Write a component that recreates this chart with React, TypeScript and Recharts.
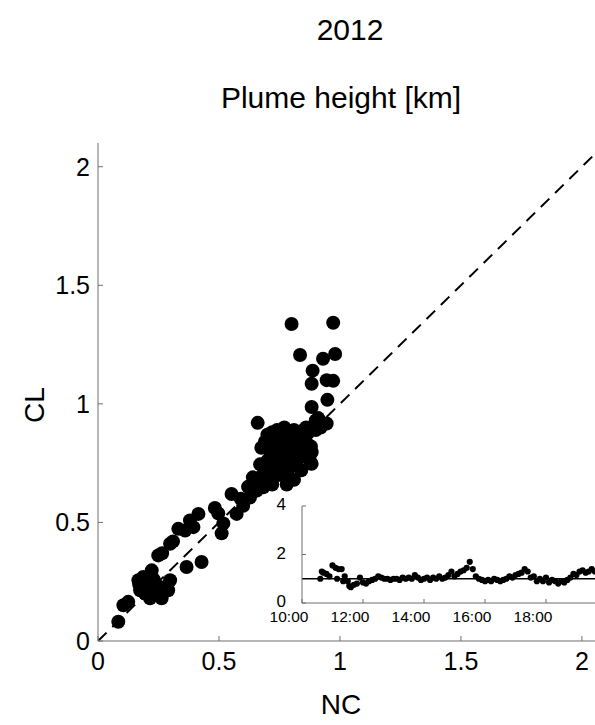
import React from 'react';
import { ScatterChart, Scatter, XAxis, YAxis, ReferenceLine, CartesianGrid } from 'recharts';

// main panel: NC vs CL plume height [km]
const mainTicks = [0, 0.5, 1, 1.5, 2];
const xMax = 2.054;
const yMax = 2.1;

const ncValues = [
  0.084, 0.105, 0.125, 0.167, 0.174, 0.187, 0.208, 0.222, 0.215, 0.263, 0.29, 0.298, 0.256, 0.194, 0.242,
  0.17, 0.2, 0.23, 0.18, 0.27, 0.249, 0.265, 0.298, 0.31, 0.332, 0.36, 0.38, 0.415, 0.394, 0.366, 0.428,
  0.483, 0.497, 0.518, 0.511, 0.552, 0.573, 0.6, 0.628, 0.656, 0.683, 0.59, 0.64, 0.67, 0.675, 0.62,
  0.66, 0.7, 0.69, 0.71, 0.72, 0.73, 0.74, 0.75, 0.76, 0.77, 0.78, 0.79, 0.8, 0.81, 0.82, 0.83, 0.84,
  0.85, 0.86, 0.87, 0.88, 0.9, 0.92, 0.73, 0.74, 0.76, 0.77, 0.78, 0.79, 0.8, 0.81, 0.82, 0.83, 0.84,
  0.85, 0.76, 0.78, 0.79, 0.81, 0.77, 0.7, 0.69, 0.68, 0.71, 0.72, 0.67, 0.65, 0.74, 0.88, 0.88, 0.86,
  0.8, 0.972, 0.835, 0.93, 0.98, 0.887, 0.945, 0.972, 0.883, 0.948, 0.883, 0.91, 0.945, 0.883, 0.883,
  0.86, 0.9,
];
const clValues = [
  0.081, 0.151, 0.165, 0.256, 0.214, 0.27, 0.228, 0.298, 0.18, 0.18, 0.214, 0.256, 0.228, 0.2, 0.2,
  0.24, 0.25, 0.26, 0.22, 0.21, 0.361, 0.37, 0.41, 0.42, 0.473, 0.466, 0.508, 0.536, 0.48, 0.312, 0.333,
  0.561, 0.538, 0.496, 0.454, 0.62, 0.536, 0.57, 0.605, 0.634, 0.648, 0.6, 0.69, 0.745, 0.815, 0.65,
  0.92, 0.87, 0.84, 0.8, 0.88, 0.85, 0.89, 0.82, 0.87, 0.9, 0.84, 0.88, 0.86, 0.89, 0.83, 0.88, 0.86,
  0.89, 0.84, 0.88, 0.82, 0.89, 0.9, 0.78, 0.74, 0.79, 0.76, 0.81, 0.73, 0.78, 0.75, 0.79, 0.77, 0.72,
  0.8, 0.7, 0.66, 0.69, 0.68, 0.72, 0.76, 0.72, 0.7, 0.68, 0.66, 0.66, 0.68, 0.7, 0.75, 0.8, 0.78,
  1.337, 1.342, 1.206, 1.19, 1.21, 1.14, 1.1, 1.097, 1.085, 1.017, 0.987, 0.94, 0.917, 0.747, 0.796,
  0.9, 0.93,
];

// inset: CL/NC ratio over the day
const insetHours = [
  10.6, 10.65, 10.7, 10.8, 10.9, 11.0, 11.1, 11.15, 11.2, 11.3, 11.35, 11.4, 11.5, 11.55, 11.6, 11.7,
  11.8, 11.9, 12.0, 12.1, 12.2, 12.3, 12.4, 12.5, 12.6, 12.7, 12.8, 12.9, 13.0, 13.1, 13.2, 13.3, 13.4,
  13.5, 13.6, 13.7, 13.8, 13.9, 14.0, 14.1, 14.2, 14.3, 14.4, 14.5, 14.6, 14.7, 14.8, 14.9, 15.0, 15.1,
  15.2, 15.3, 15.4, 15.5, 15.6, 15.7, 15.8, 15.9, 16.0, 16.1, 16.2, 16.3, 16.4, 16.5, 16.6, 16.7, 16.8,
  16.9, 17.0, 17.1, 17.2, 17.3, 17.4, 17.5, 17.6, 17.7, 17.8, 17.9, 18.0, 18.1, 18.2, 18.3, 18.4, 18.5,
  18.6, 18.7, 18.8, 18.9, 19.0, 19.1, 19.2, 19.3, 19.4, 19.5, 19.6, 19.7,
];
const insetRatio = [
  1.0, 1.3, 1.25, 1.2, 1.1, 1.55, 1.45, 1.0, 1.4, 1.4, 0.9, 1.1, 0.9, 0.7, 0.65, 0.75,
  0.8, 1.05, 0.85, 0.8, 0.9, 0.95, 1.0, 1.1, 1.05, 1.0, 1.0, 0.95, 1.0, 1.0, 0.95, 1.05, 1.0,
  1.05, 1.0, 1.15, 1.05, 0.95, 1.0, 1.05, 0.95, 1.05, 1.0, 1.1, 1.0, 1.05, 1.15, 1.3, 1.1, 1.2,
  1.3, 1.35, 1.45, 1.7, 1.4, 1.1, 1.0, 0.95, 0.9, 0.95, 0.9, 1.0, 0.95, 0.9, 0.95, 1.0, 1.1,
  1.05, 1.15, 1.2, 1.25, 1.4, 1.3, 1.05, 1.1, 0.9, 1.0, 0.9, 1.05, 0.85, 0.95, 0.9, 0.8, 0.9,
  0.85, 0.95, 1.05, 1.2, 1.15, 1.3, 1.35, 1.25, 1.3, 1.4, 1.3, 1.35,
];
const insetHourTicks = [10, 12, 14, 16, 18];
const insetRatioTicks = [0, 2, 4];

const font = '"Liberation Sans", Arial, sans-serif';
const axisGray = '#6f6f6f';

const mainData = ncValues.map((nc, i) => ({ nc, cl: clValues[i] }));
const insetData = insetHours.map((t, i) => ({ t, r: insetRatio[i] }));

const bigDot = (p: any) => <circle cx={p.cx} cy={p.cy} r={7} fill="#000" />;
const smallDot = (p: any) => <circle cx={p.cx} cy={p.cy} r={3.1} fill="#000" />;

const fmtMain = (v: number) => String(v);
const fmtHour = (h: number) => `${h}:00`;

function Caption({ text, x, y, size = 28, rotate = false }: { text: string; x: number; y: number; size?: number; rotate?: boolean }) {
  return (
    <div
      style={{
        position: 'absolute',
        left: x,
        top: y,
        transform: `translate(-50%, -50%)${rotate ? ' rotate(-90deg)' : ''}`,
        fontFamily: font,
        fontSize: size,
        lineHeight: 1,
        whiteSpace: 'nowrap',
        color: '#000',
      }}
    >
      {text}
    </div>
  );
}

export default function App() {
  const tickStyle = { fill: '#000', fontSize: 25, fontFamily: font };
  const insetTickStyle = { fill: '#000', fontSize: 15.5, fontFamily: font };
  const hourTick = (p: any) => (
    <text x={p.x - 13} y={p.y} dy="0.71em" textAnchor="middle" {...insetTickStyle}>
      {fmtHour(p.payload.value)}
    </text>
  );
  const ratioTick = (p: any) => (
    <text x={p.x} y={p.y - 2} dy="0.355em" textAnchor="end" {...insetTickStyle} fontSize={17}>
      {p.payload.value}
    </text>
  );
  return (
    <div style={{ position: 'absolute', left: 0, top: 0, width: 595, height: 725, overflow: 'hidden', background: '#fff' }}>
      <div style={{ position: 'absolute', left: 0, top: 0 }}>
        <ScatterChart width={595} height={725} margin={{ top: 143, right: 0, bottom: 0, left: 0 }}>
          <XAxis
            type="number"
            dataKey="nc"
            domain={[0, xMax]}
            ticks={mainTicks}
            tickFormatter={fmtMain}
            height={84}
            allowDataOverflow
            stroke={axisGray}
            tickSize={-5}
            tickMargin={16}
            tick={tickStyle}
          />
          <YAxis
            type="number"
            dataKey="cl"
            domain={[0, yMax]}
            ticks={mainTicks}
            tickFormatter={fmtMain}
            width={98}
            allowDataOverflow
            stroke={axisGray}
            tickSize={-5}
            tickMargin={13}
            tick={tickStyle}
          />
          <ReferenceLine
            segment={[{ x: 0, y: 0 }, { x: xMax, y: xMax }]}
            stroke="#000"
            strokeWidth={2}
            strokeDasharray="12 8"
            ifOverflow="hidden"
          />
          <Scatter data={mainData} shape={bigDot} isAnimationActive={false} />
        </ScatterChart>
      </div>

      <Caption text="2012" x={350} y={30} size={30} />
      <Caption text="Plume height [km]" x={341} y={98} size={30} />
      <Caption text="CL" x={35} y={405} rotate />
      <Caption text="NC" x={341} y={705} />

      <div style={{ position: 'absolute', left: 262, top: 496 }}>
        <ScatterChart width={350} height={135} margin={{ top: 10, right: 5, bottom: 0, left: 0 }}>
          <CartesianGrid horizontal={false} vertical={false} fill="#fff" />
          <XAxis
            xAxisId="b"
            type="number"
            dataKey="t"
            domain={[10, 20]}
            ticks={insetHourTicks}
            height={28}
            stroke={axisGray}
            tickSize={-4}
            tickMargin={12}
            tick={hourTick}
          />
          <XAxis
            xAxisId="top"
            orientation="top"
            type="number"
            dataKey="t"
            domain={[10, 20]}
            ticks={insetHourTicks}
            height={0}
            stroke={axisGray}
            tickSize={-4}
            tick={false}
          />
          <YAxis
            yAxisId="l"
            type="number"
            dataKey="r"
            domain={[0, 4]}
            ticks={insetRatioTicks}
            width={40}
            stroke={axisGray}
            tickSize={-4}
            tickMargin={20}
            tick={ratioTick}
          />
          <ReferenceLine xAxisId="b" yAxisId="l" y={1} stroke="#000" strokeWidth={1.5} />
          <Scatter xAxisId="b" yAxisId="l" data={insetData} shape={smallDot} isAnimationActive={false} />
        </ScatterChart>
      </div>
    </div>
  );
}
